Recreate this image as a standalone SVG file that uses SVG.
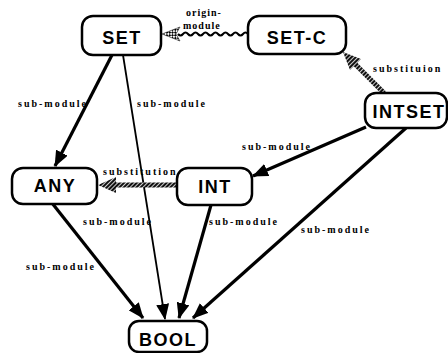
<svg xmlns="http://www.w3.org/2000/svg" width="448" height="353" viewBox="0 0 448 353">
  <style>
    .box { fill: #fff; stroke: #000; stroke-width: 2.5; }
    .name { font-family: "Liberation Sans", Arial, sans-serif; font-weight: bold; font-size: 18px; letter-spacing: 1.5px; text-anchor: middle; fill: #000; }
    .lbl { font-family: "Liberation Serif", "Times New Roman", serif; font-weight: bold; font-size: 10px; letter-spacing: 2px; fill: #000; }
    .sub { fill: none; stroke: #000; stroke-width: 3.2; marker-end: url(#head); }
    .thin { stroke-width: 1.8; }
    .subst { fill: none; stroke: url(#hatch); stroke-width: 5; }
    .substHead { fill: url(#hatch); }
  </style>
  <defs>
    <marker id="head" markerUnits="userSpaceOnUse" viewBox="0 0 16 13" refX="15" refY="6.5" markerWidth="16" markerHeight="13" orient="auto">
      <path d="M0,0 L16,6.5 L0,13 Z" fill="#000"/>
    </marker>
    <pattern id="hatch" patternUnits="userSpaceOnUse" width="3" height="3" patternTransform="rotate(45)">
      <rect width="3" height="3" fill="#fff"/>
      <rect width="2.2" height="3" fill="#111"/>
    </pattern>
    <pattern id="checker" patternUnits="userSpaceOnUse" width="4" height="4" patternTransform="rotate(45)">
      <rect width="4" height="4" fill="#fff"/>
      <rect width="2" height="2" fill="#000"/>
      <rect x="2" y="2" width="2" height="2" fill="#000"/>
    </pattern>
  </defs>

  <!-- connectors -->
  <g id="connectors">
    <line class="sub" x1="112" y1="55" x2="55" y2="166"/>
    <line class="sub thin" x1="123" y1="55" x2="165" y2="319"/>
    <line class="sub" x1="366" y1="127" x2="253" y2="176"/>
    <line class="sub" x1="406" y1="128" x2="193" y2="318"/>
    <line class="sub" x1="211" y1="205" x2="179" y2="318"/>
    <line class="sub" x1="52" y1="203" x2="143" y2="318"/>

    <!-- substitution: INTSET to SET-C -->
    <line class="subst" x1="384" y1="93" x2="355" y2="64"/>
    <polygon class="substHead" points="343,52 361,59 350,70"/>
    <!-- substitution: INT to ANY -->
    <line class="subst" x1="177" y1="185" x2="114" y2="185"/>
    <polygon class="substHead" points="98,185 116,177 116,193"/>

    <!-- origin-module: SET-C to SET (wavy) -->
    <path d="M248,34 q-2.5,-3 -5,0 t-5,0 t-5,0 t-5,0 t-5,0 t-5,0 t-5,0 t-5,0 t-5,0 t-5,0 t-5,0 t-5,0 t-5,0 t-5,0" fill="none" stroke="#000" stroke-width="2"/>
    <polygon points="162,34 180,27 176,34 180,41" fill="url(#checker)" stroke="#000" stroke-width="0.5"/>

    <!-- connector labels -->
    <text class="lbl" x="18" y="107">sub-module</text>
    <text class="lbl" x="137" y="107">sub-module</text>
    <text class="lbl" x="242" y="150">sub-module</text>
    <text class="lbl" x="103" y="175">substitution</text>
    <text class="lbl" x="83" y="225">sub-module</text>
    <text class="lbl" x="209" y="225">sub-module</text>
    <text class="lbl" x="301" y="233">sub-module</text>
    <text class="lbl" x="26" y="270">sub-module</text>
    <text class="lbl" x="373" y="72">substituion</text>
    <text class="lbl" x="186" y="16" style="letter-spacing:1px">origin-</text>
    <text class="lbl" x="183" y="29" style="letter-spacing:1px">module</text>
  </g>

  <g id="SET">
    <rect class="box" x="82" y="16" width="79" height="39" rx="11"/>
    <text class="name" x="122" y="44">SET</text>
  </g>
  <g id="SET-C">
    <rect class="box" x="248" y="16" width="98" height="38" rx="11"/>
    <text class="name" x="297" y="44">SET-C</text>
  </g>
  <g id="INTSET">
    <rect class="box" x="365" y="93" width="82" height="35" rx="11"/>
    <text class="name" x="409" y="118">INTSET</text>
  </g>
  <g id="ANY">
    <rect class="box" x="12" y="168" width="85" height="36" rx="11"/>
    <text class="name" x="55" y="192">ANY</text>
  </g>
  <g id="INT">
    <rect class="box" x="177" y="168" width="75" height="37" rx="11"/>
    <text class="name" x="215" y="193">INT</text>
  </g>
  <g id="BOOL">
    <rect class="box" x="129" y="321" width="78" height="31" rx="10"/>
    <text class="name" x="168" y="346">BOOL</text>
  </g>
</svg>
